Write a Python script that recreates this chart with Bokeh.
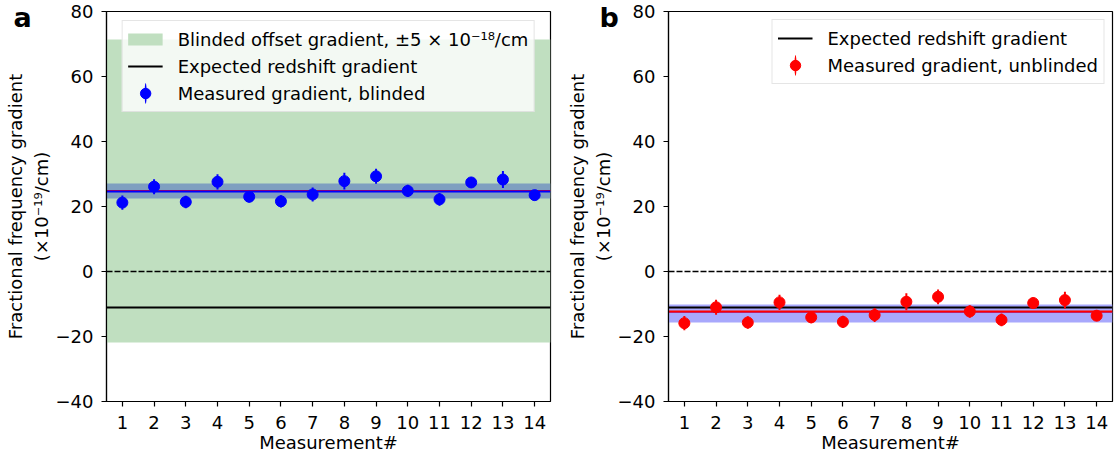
from bokeh.plotting import figure
from bokeh.layouts import row
from bokeh.models import ColumnDataSource, Legend, LegendItem
from bokeh.embed import file_html
from bokeh.resources import INLINE

# ---- data ----
measurements = list(range(1, 15))
blinded = [21.2, 26.1, 21.4, 27.6, 23.0, 21.6, 23.7, 27.8, 29.3, 24.8, 22.2, 27.4, 28.3, 23.5]
unblinded = [-15.9, -11.0, -15.7, -9.5, -14.1, -15.5, -13.4, -9.3, -7.8, -12.3, -14.9, -9.7, -8.8, -13.6]
errors = [2.2, 2.3, 1.9, 2.35, 1.8, 1.9, 2.15, 2.6, 2.3, 1.9, 1.95, 1.7, 2.6, 1.6]
expected_gradient = -11.0
blind_offset_band = [-21.9, 71.4]
mean_a_blue = 24.6
mean_a_red = 25.0
band_a = [22.6, 27.0]
mean_b_blue = -12.5
mean_b_red = -12.2
band_b = [-15.6, -10.1]
x_ticks = measurements
y_ticks = [-40, -20, 0, 20, 40, 60, 80]
y_tick_labels = {-40: "\u221240", -20: "\u221220"}
panel_letters = ["a", "b"]

FONT = "DejaVu Sans"
FS = "18px"


def base_figure(width, left, right, letter, letter_dx):
    p = figure(width=width, height=460, x_range=(0.5, 14.5), y_range=(-40, 80),
               output_backend="svg", toolbar_location=None,
               min_border_left=left, min_border_right=right,
               min_border_top=11, min_border_bottom=59)
    # panel letter as the figure title, pulled into the top-left corner
    p.title.text = letter
    p.title.align = "left"
    p.title.offset = letter_dx
    p.title.standoff = -42
    p.title.vertical_align = "bottom"
    p.title.text_font = FONT
    p.title.text_font_size = "27px"
    p.title.text_font_style = "bold"
    p.title.text_color = "black"
    p.grid.visible = False
    p.outline_line_color = "black"
    p.outline_line_width = 1.2
    p.outline_line_alpha = 1
    p.xaxis.ticker = x_ticks
    p.yaxis.ticker = y_ticks
    p.yaxis.major_label_overrides = y_tick_labels
    p.axis.major_tick_out = 5
    p.axis.major_tick_in = 0
    p.axis.minor_tick_out = 0
    p.axis.minor_tick_in = 0
    p.axis.axis_line_color = "black"
    p.axis.axis_line_width = 1.2
    p.axis.major_tick_line_width = 1.2
    p.axis.major_label_text_font = FONT
    p.axis.major_label_text_font_size = FS
    p.axis.major_label_text_color = "black"
    p.yaxis.major_label_standoff = 8
    p.xaxis.major_label_standoff = 9
    p.axis.axis_label_text_font = FONT
    p.axis.axis_label_text_font_size = FS
    p.axis.axis_label_text_font_style = "normal"
    p.axis.axis_label_text_color = "black"
    p.xaxis.axis_label = "Measurement#"
    p.xaxis.axis_label_standoff = 0
    p.yaxis.axis_label = "Fractional frequency gradient\n(\u00d710\u207b\u00b9\u2079/cm)"
    p.yaxis.axis_label_standoff = 1
    return p


def style_legend(lg):
    lg.label_text_font = FONT
    lg.label_text_font_size = FS
    lg.label_text_color = "black"
    lg.glyph_width = 35
    lg.glyph_height = 26
    lg.label_height = 26
    lg.spacing = 1
    lg.padding = 5
    lg.margin = 9
    lg.label_standoff = 15
    lg.border_line_color = "#cccccc"
    lg.border_line_width = 1
    lg.background_fill_color = "white"
    lg.background_fill_alpha = 0.8


def errorbars(p, values, color):
    src = ColumnDataSource(dict(x=measurements, y=values,
                                lo=[v - e for v, e in zip(values, errors)],
                                hi=[v + e for v, e in zip(values, errors)]))
    p.segment(x0="x", y0="lo", x1="x", y1="hi", source=src, line_color=color, line_width=2)
    pts = p.scatter(x="x", y="y", source=src, size=11, marker="circle",
                    fill_color=color, line_color=color)
    # legend-only glyph: a thin tall ellipse, drawn far outside the visible range
    bar = p.ellipse(x=[-100], y=[0], width=2, height=20, width_units="screen",
                    height_units="screen", fill_color=color, line_color=None)
    return [bar, pts]


# ---------------- panel a ----------------
pa = base_figure(560, 106, 10, panel_letters[0], -93)
pa.hstrip(y0=[blind_offset_band[0]], y1=[blind_offset_band[1]],
          fill_color="#c0dfc0", line_color=None)
green_key = pa.hspan(y=[-1000], line_color="#c0dfc0", line_width=12, line_cap="butt")
pa.hstrip(y0=[band_a[0]], y1=[band_a[1]], fill_color="#7f9fc0", line_color=None)
pa.hspan(y=[0], line_color="black", line_width=1.5, line_dash="6 2")
exp_a = pa.hspan(y=[expected_gradient], line_color="black", line_width=1.8)
pa.hspan(y=[mean_a_red], line_color="red", line_width=1)
pa.hspan(y=[mean_a_blue], line_color="blue", line_width=2)
meas_a = errorbars(pa, blinded, "blue")
leg_a = Legend(items=[
    LegendItem(label="Blinded offset gradient, \u00b15 \u00d7 10\u207b\u00b9\u2078/cm", renderers=[green_key]),
    LegendItem(label="Expected redshift gradient", renderers=[exp_a]),
    LegendItem(label="Measured gradient, blinded", renderers=meas_a),
], location="top_center")
style_legend(leg_a)
pa.add_layout(leg_a)

# ---------------- panel b ----------------
pb = base_figure(555, 108, 3, panel_letters[1], -69)
pb.hstrip(y0=[band_b[0]], y1=[band_b[1]], fill_color="#a8a8fc", line_color=None)
pb.hspan(y=[0], line_color="black", line_width=1.5, line_dash="6 2")
exp_b = pb.hspan(y=[expected_gradient], line_color="black", line_width=1.8)
pb.hspan(y=[mean_b_blue], line_color="#8a3cc8", line_width=1)
pb.hspan(y=[mean_b_red], line_color="red", line_width=2)
meas_b = errorbars(pb, unblinded, "red")
leg_b = Legend(items=[
    LegendItem(label="Expected redshift gradient", renderers=[exp_b]),
    LegendItem(label="Measured gradient, unblinded", renderers=meas_b),
], location="top_right")
style_legend(leg_b)
leg_b.margin = 8
pb.add_layout(leg_b)

layout = row(pa, pb, spacing=0)
open("out.html", "w").write(file_html(layout, INLINE))
